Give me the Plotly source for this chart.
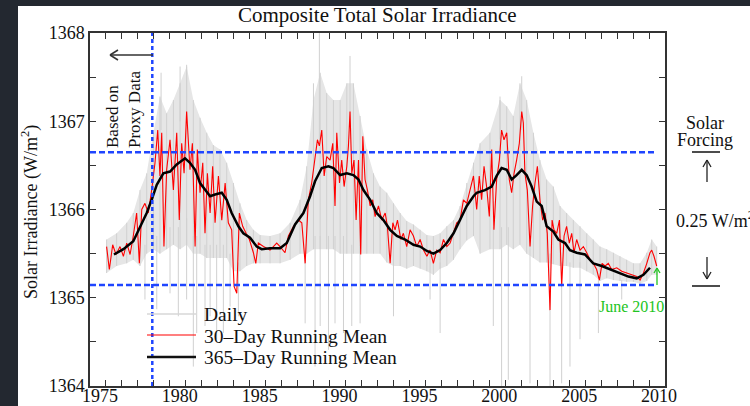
import plotly.graph_objects as go

# ---------------- data ----------------
mean365_years = [1976.50, 1977.09, 1977.71, 1978.13, 1978.55, 1978.86, 1979.18, 1979.59, 1980.01, 1980.43,
                 1980.95, 1981.26, 1981.58, 1981.89, 1982.20, 1982.52, 1982.83, 1983.25, 1983.56, 1983.87,
                 1984.29, 1984.60, 1985.02, 1985.44, 1985.75, 1986.27, 1986.90, 1987.32, 1987.84, 1988.36,
                 1988.78, 1989.09, 1989.51, 1989.93, 1990.24, 1990.66, 1991.08, 1991.49, 1991.81, 1992.12,
                 1992.54, 1992.95, 1993.37, 1993.79, 1994.21, 1994.73, 1995.25, 1995.67, 1996.09, 1996.50,
                 1996.92, 1997.34, 1997.76, 1998.17, 1998.59, 1999.01, 1999.21, 1999.73, 2000.15, 2000.46,
                 2000.77, 2001.09, 2001.40, 2001.71, 2002.03, 2002.34, 2002.65, 2002.97, 2003.28, 2003.59,
                 2004.01, 2004.32, 2004.74, 2005.05, 2005.47, 2005.99, 2006.51, 2007.04, 2007.56, 2008.18,
                 2008.71, 2009.23, 2009.65, 2010.06]
mean365_tsi = [1365.49, 1365.55, 1365.64, 1365.81, 1365.96, 1366.11, 1366.28, 1366.41, 1366.43, 1366.51,
               1366.58, 1366.53, 1366.45, 1366.30, 1366.22, 1366.15, 1366.17, 1366.19, 1366.11, 1365.96,
               1365.81, 1365.73, 1365.68, 1365.58, 1365.55, 1365.56, 1365.56, 1365.62, 1365.83, 1365.96,
               1366.15, 1366.32, 1366.47, 1366.49, 1366.47, 1366.39, 1366.41, 1366.39, 1366.34, 1366.22,
               1366.11, 1365.96, 1365.88, 1365.77, 1365.70, 1365.66, 1365.60, 1365.58, 1365.53, 1365.50,
               1365.54, 1365.62, 1365.73, 1365.88, 1366.04, 1366.15, 1366.19, 1366.22, 1366.26, 1366.38,
               1366.47, 1366.45, 1366.34, 1366.39, 1366.45, 1366.39, 1366.26, 1366.09, 1366.04, 1365.81,
               1365.75, 1365.66, 1365.62, 1365.54, 1365.51, 1365.49, 1365.39, 1365.36, 1365.32, 1365.28,
               1365.24, 1365.22, 1365.26, 1365.34]

mean30_years = [1976.04, 1976.21, 1976.42, 1976.63, 1976.88, 1977.09, 1977.30, 1977.51, 1977.71, 1977.92,
                1978.09, 1978.24, 1978.44, 1978.65, 1978.86, 1979.07, 1979.24, 1979.38, 1979.49, 1979.63, 1979.80,
                1980.01, 1980.22, 1980.43, 1980.59, 1980.74, 1980.89,
                1981.05, 1981.26, 1981.41, 1981.58, 1981.72, 1981.89,
                1982.06, 1982.20, 1982.35, 1982.52, 1982.68, 1982.83,
                1983.04, 1983.25, 1983.46, 1983.66, 1983.87,
                1984.02, 1984.19, 1984.35, 1984.56, 1984.77, 1984.98,
                1985.23, 1985.38, 1985.54, 1985.86, 1986.27, 1986.69,
                1986.90, 1987.21, 1987.42, 1987.74, 1988.05, 1988.26, 1988.47, 1988.67, 1988.88,
                1989.09, 1989.24, 1989.36, 1989.51, 1989.66, 1989.82,
                1990.03, 1990.20, 1990.34, 1990.45, 1990.62, 1990.76, 1990.91,
                1991.08, 1991.18, 1991.28, 1991.39, 1991.53, 1991.66, 1991.81, 1991.95,
                1992.08, 1992.22, 1992.37, 1992.54, 1992.70, 1992.85,
                1993.06, 1993.27, 1993.48, 1993.62, 1993.79, 1993.96,
                1994.10, 1994.25, 1994.46, 1994.62, 1994.83,
                1995.04, 1995.25, 1995.46, 1995.67, 1995.88,
                1996.09, 1996.29, 1996.50, 1996.71, 1996.92,
                1997.13, 1997.34, 1997.55, 1997.76, 1997.96,
                1998.17, 1998.38, 1998.59, 1998.80, 1999.01,
                1999.21, 1999.37, 1999.52, 1999.67, 1999.83,
                2000.00, 2000.15, 2000.29, 2000.46, 2000.63, 2000.77, 2000.92,
                2001.09, 2001.25, 2001.40, 2001.55, 2001.71, 2001.88,
                2002.03, 2002.13, 2002.23, 2002.38, 2002.55, 2002.71, 2002.86,
                2003.01, 2003.17, 2003.34, 2003.49, 2003.63, 2003.80, 2003.93,
                2004.05, 2004.22, 2004.39, 2004.53, 2004.68, 2004.84,
                2005.01, 2005.16, 2005.30, 2005.47, 2005.68, 2005.89,
                2006.10, 2006.31, 2006.51, 2006.72, 2006.89,
                2007.06, 2007.25, 2007.45, 2007.66, 2007.98,
                2008.29, 2008.60, 2008.92,
                2009.23, 2009.44, 2009.65, 2009.86,
                2010.06, 2010.17, 2010.31, 2010.48]
mean30_tsi = [1365.58, 1365.32, 1365.60, 1365.49, 1365.58, 1365.47, 1365.62, 1365.49, 1365.70, 1365.96,
              1365.39, 1366.00, 1366.07, 1365.96, 1366.22, 1366.53, 1366.90, 1366.38, 1366.87, 1365.58, 1366.45,
              1366.79, 1366.22, 1366.87, 1365.88, 1366.75, 1366.41,
              1367.11, 1366.45, 1366.75, 1365.58, 1366.68, 1366.19,
              1366.53, 1365.73, 1366.41, 1365.96, 1366.49, 1365.85,
              1366.38, 1365.88, 1366.30, 1365.85, 1365.77,
              1365.13, 1365.05, 1365.96, 1365.81, 1365.73, 1365.66,
              1365.51, 1365.39, 1365.62, 1365.58, 1365.54, 1365.62,
              1365.58, 1365.51, 1365.70, 1365.81, 1365.88, 1365.85, 1365.39, 1366.11, 1366.30,
              1366.56, 1366.79, 1366.72, 1366.90, 1366.38, 1366.60,
              1366.56, 1366.75, 1366.04, 1366.87, 1366.30, 1366.56, 1366.26,
              1366.49, 1366.72, 1367.11, 1366.41, 1366.56, 1365.88, 1366.56, 1365.49,
              1366.83, 1366.34, 1366.22, 1366.04, 1366.11, 1365.92,
              1366.04, 1365.88, 1365.96, 1365.81, 1365.39, 1365.85,
              1365.77, 1365.88, 1365.66, 1365.73, 1365.58,
              1365.77, 1365.70, 1365.58, 1365.66, 1365.54,
              1365.47, 1365.54, 1365.39, 1365.54, 1365.51,
              1365.66, 1365.58, 1365.62, 1365.73, 1365.85,
              1365.88, 1366.11, 1366.07, 1366.22, 1366.38,
              1366.00, 1366.38, 1366.11, 1366.49, 1366.26,
              1365.92, 1366.68, 1365.77, 1366.34, 1366.56, 1366.90, 1366.79,
              1366.87, 1366.34, 1366.19, 1366.41, 1366.56, 1366.75,
              1367.11, 1366.98, 1366.41, 1366.22, 1365.58, 1366.04, 1366.30,
              1366.49, 1366.11, 1365.88, 1365.96, 1365.73, 1364.86, 1365.88,
              1365.77, 1365.73, 1365.88, 1365.13, 1365.70, 1365.81,
              1365.62, 1365.73, 1365.51, 1365.66, 1365.54, 1365.58,
              1365.51, 1365.43, 1365.39, 1365.32, 1365.20,
              1365.39, 1365.36, 1365.39, 1365.32, 1365.34,
              1365.30, 1365.28, 1365.26,
              1365.24, 1365.20, 1365.28, 1365.39,
              1365.51, 1365.54, 1365.47, 1365.36]

# envelope of the daily values (upper / lower edge of the dense grey band)
daily_env_years = [1976.04, 1976.67, 1977.30, 1977.71, 1978.13, 1978.55, 1978.97, 1979.38, 1979.80, 1980.22,
                   1980.64, 1981.05, 1981.47, 1981.89, 1982.31, 1982.72, 1983.14, 1983.56, 1983.98, 1984.39,
                   1984.81, 1985.23, 1985.65, 1986.27, 1986.90,
                   1987.53, 1988.15, 1988.57, 1988.99, 1989.41, 1989.82, 1990.24, 1990.66, 1991.08, 1991.49,
                   1991.91, 1992.33, 1992.75, 1993.16, 1993.58, 1994.00, 1994.42, 1994.83, 1995.25, 1995.67,
                   1996.09, 1996.50, 1996.92, 1997.34, 1997.76, 1998.17, 1998.59, 1999.01,
                   1999.42, 2000.04, 2000.67, 2001.09, 2001.50, 2001.92, 2002.34, 2002.76, 2003.17, 2003.59,
                   2004.01, 2004.43, 2004.84, 2005.26, 2005.68, 2006.10, 2006.51, 2006.93, 2007.35, 2007.77,
                   2008.18, 2008.60, 2009.02, 2009.44, 2009.86, 2010.17, 2010.48]
daily_env_hi = [1365.66, 1365.73, 1365.85, 1365.96, 1366.22, 1366.41, 1366.87, 1367.28, 1367.09, 1367.24,
                1367.43, 1367.62, 1367.24, 1367.04, 1366.87, 1366.73, 1366.68, 1366.53, 1366.30, 1366.07,
                1365.88, 1365.77, 1365.71, 1365.70, 1365.73,
                1365.85, 1366.11, 1366.49, 1367.24, 1367.55, 1367.32, 1367.24, 1367.24, 1367.43, 1367.43,
                1367.06, 1366.68, 1366.41, 1366.26, 1366.19, 1366.07, 1365.96, 1365.87, 1365.83, 1365.77,
                1365.71, 1365.70, 1365.73, 1365.81, 1365.88, 1366.04, 1366.30, 1366.53,
                1366.75, 1366.87, 1367.24, 1367.17, 1367.06, 1367.43, 1367.24, 1366.87, 1366.56, 1366.34,
                1366.26, 1366.04, 1365.96, 1365.88, 1365.81, 1365.73, 1365.66, 1365.58, 1365.55, 1365.51,
                1365.47, 1365.43, 1365.39, 1365.39, 1365.51, 1365.66, 1365.58]
daily_env_lo = [1365.28, 1365.36, 1365.39, 1365.43, 1365.36, 1365.50, 1365.55, 1365.50, 1365.55, 1365.60,
                1365.55, 1365.60, 1365.50, 1365.50, 1365.45, 1365.45, 1365.45, 1365.45, 1365.30, 1365.30,
                1365.36, 1365.39, 1365.39, 1365.39, 1365.39,
                1365.43, 1365.50, 1365.50, 1365.55, 1365.55, 1365.55, 1365.55, 1365.50, 1365.50, 1365.50,
                1365.50, 1365.50, 1365.50, 1365.50, 1365.40, 1365.36, 1365.36, 1365.33, 1365.36, 1365.33,
                1365.30, 1365.26, 1365.33, 1365.36, 1365.43, 1365.55, 1365.65, 1365.70,
                1365.50, 1365.55, 1365.55, 1365.60, 1365.55, 1365.60, 1365.50, 1365.45, 1365.40, 1365.40,
                1365.38, 1365.36, 1365.36, 1365.34, 1365.34, 1365.30, 1365.26, 1365.19, 1365.22, 1365.20,
                1365.19, 1365.18, 1365.18, 1365.16, 1365.19, 1365.26, 1365.26]

# individual daily excursions (sunspot dips and faculae peaks): year, low end, high end
spike_years = [1978.44, 1979.18, 1980.01, 1980.53, 1981.05, 1981.47, 1981.68, 1982.20, 1982.52, 1982.93,
               1983.35, 1983.77, 1984.29, 1988.47, 1989.09, 1989.41, 1989.93, 1990.34, 1990.87, 1991.39,
               1991.91, 1994.00, 1996.29, 1996.92, 2000.25, 2000.77, 2001.19, 2002.55, 2003.80, 2004.53,
               2005.05, 2005.68, 2006.83, 2008.29,
               1979.45, 1980.64, 1981.05, 1988.99, 1989.36, 1991.28, 2000.67, 2002.03]
spike_lo = [1364.98, 1364.87, 1365.05, 1364.79, 1364.98, 1364.22, 1364.60, 1364.68, 1364.79, 1364.53,
            1364.60, 1364.90, 1364.79, 1364.71, 1364.22, 1364.68, 1364.41, 1364.71, 1364.60, 1364.68,
            1364.71, 1364.79, 1364.98, 1364.60, 1364.68, 1364.00, 1364.07, 1364.03, 1364.00, 1364.03,
            1364.22, 1364.53, 1364.60, 1364.98,
            1366.90, 1367.00, 1367.00, 1366.60, 1366.80, 1366.80, 1366.80, 1366.90]
spike_hi = [1365.60, 1365.70, 1365.80, 1365.80, 1365.90, 1365.70, 1365.70, 1365.60, 1365.60, 1365.60,
            1365.60, 1365.50, 1365.40, 1365.50, 1365.70, 1365.70, 1365.70, 1365.70, 1365.70, 1365.60,
            1365.60, 1365.40, 1365.50, 1365.40, 1365.80, 1365.80, 1365.80, 1365.70, 1365.50, 1365.40,
            1365.40, 1365.40, 1365.20, 1365.20,
            1367.55, 1367.62, 1367.64, 1367.43, 1368.00, 1367.74, 1367.28, 1367.51]

forcing_levels = [1366.65, 1365.145]      # dashed blue reference levels
proxy_start_year = 1978.9                 # start of satellite record
june_2010 = 2010.45

x_range = [1975, 2011]
y_range = [1364, 1368]
x_tick_years = list(range(1975, 2012))
x_tick_text = [str(y) if y % 5 == 0 and y <= 2010 else "" for y in x_tick_years]
y_tick_vals = [1364, 1364.5, 1365, 1365.5, 1366, 1366.5, 1367, 1367.5, 1368]
y_tick_text = ["1364", "", "1365", "", "1366", "", "1367", "", "1368"]
legend_names = ["Daily", "30\u2013Day Running Mean", "365\u2013Day Running Mean"]

# ---------------- layout geometry (pixels) ----------------
W, H = 750, 406
L, R, T, B = 90, 85, 33, 20
PW, PH = W - L - R, H - T - B


def px(x):
    return (x - L) / PW


def py(y):
    return (H - B - y) / PH


SERIF = "Liberation Serif, Times New Roman, serif"
BLUE = "#1f45ff"
GREEN = "#22c422"
DAILY_C = "rgb(208,208,208)"

fig = go.Figure()

# daily: light band, vertical day-to-day spread and isolated excursions
fig.add_trace(go.Scatter(x=daily_env_years, y=daily_env_hi, mode="lines",
                         line=dict(width=0, color="rgb(228,228,228)"), showlegend=False,
                         hoverinfo="skip"))
fig.add_trace(go.Scatter(x=daily_env_years, y=daily_env_lo, mode="lines",
                         line=dict(width=0, color="rgb(228,228,228)"), fill="tonexty",
                         fillcolor="rgb(230,230,230)", showlegend=False, hoverinfo="skip"))
sx, sy = [], []
for yr, lo, hi in zip(daily_env_years, daily_env_lo, daily_env_hi):
    sx += [yr, yr, None]
    sy += [lo, hi, None]
for yr, lo, hi in zip(spike_years, spike_lo, spike_hi):
    sx += [yr, yr, None]
    sy += [lo, hi, None]
fig.add_trace(go.Scatter(x=sx, y=sy, mode="lines", name=legend_names[0], showlegend=False,
                         line=dict(width=1, color=DAILY_C), hoverinfo="skip"))
fig.add_trace(go.Scatter(x=mean30_years, y=mean30_tsi, mode="lines", name=legend_names[1],
                         showlegend=False, line=dict(width=1.1, color="#ff0000")))
fig.add_trace(go.Scatter(x=mean365_years, y=mean365_tsi, mode="lines", name=legend_names[2],
                         showlegend=False, line=dict(width=2.5, color="#000000")))

# blue reference lines
for lvl in forcing_levels:
    fig.add_trace(go.Scatter(x=[x_range[0], june_2010], y=[lvl, lvl], mode="lines", showlegend=False,
                             line=dict(width=2.5, color=BLUE, dash="6px,3px"), hoverinfo="skip"))
fig.add_trace(go.Scatter(x=[proxy_start_year, proxy_start_year], y=y_range, mode="lines", showlegend=False,
                         line=dict(width=2.5, color=BLUE, dash="4px,3px"), hoverinfo="skip"))


def seg(x0, y0, x1, y1, color="#222", width=1.5):
    return dict(type="line", xref="paper", yref="paper", x0=px(x0), x1=px(x1), y0=py(y0), y1=py(y1),
                line=dict(color=color, width=width), layer="above")


shapes = [
    # dark frame around the picture
    dict(type="rect", xref="paper", yref="paper", x0=px(0), x1=px(18), y0=py(H), y1=py(0),
         fillcolor="#232830", line=dict(width=0), layer="above"),
    dict(type="rect", xref="paper", yref="paper", x0=px(0), x1=px(W), y0=py(6), y1=py(0),
         fillcolor="#232830", line=dict(width=0), layer="above"),
    # "based on proxy data" arrow
    seg(110, 55, 153, 55, "#333"), seg(110, 55, 118, 50, "#333"), seg(110, 55, 118, 60, "#333"),
    # forcing bars and arrows on the right
    seg(692, 152, 720, 152, "#111"), seg(692, 286, 720, 286, "#111"),
    seg(707, 182, 707, 160, "#222", 1.3), seg(707, 160, 703, 167, "#222", 1.3), seg(707, 160, 711, 167, "#222", 1.3),
    seg(707, 257, 707, 279, "#222", 1.3), seg(707, 279, 703, 272, "#222", 1.3), seg(707, 279, 711, 272, "#222", 1.3),
    # green June 2010 arrow
    seg(657, 285, 657, 268, GREEN, 1.3), seg(657, 268, 654, 273, GREEN, 1.3), seg(657, 268, 660, 273, GREEN, 1.3),
    # legend samples
    seg(147, 314, 196, 314, "rgb(215,215,215)", 1.5),
    seg(147, 335, 196, 335, "#ff0000", 1.2),
    seg(147, 357, 196, 357, "#111", 2.5),
]


def ann(text, x, y, size=18, color="#111", xanchor="center", yanchor="middle", angle=0, align="center"):
    return dict(text=text, x=px(x), y=py(y), xref="paper", yref="paper", showarrow=False,
                xanchor=xanchor, yanchor=yanchor, textangle=angle, align=align,
                font=dict(family=SERIF, size=size, color=color))


annotations = [
    ann("Composite Total Solar Irradiance", 377, 15, size=21),
    ann("Solar Irradiance (W/m<sup>2</sup>)", 30, 212, size=18, angle=-90),
    ann("Based on<br>Proxy Data", 124, 110, size=17, angle=-90, align="left"),
    ann("Solar", 705, 123, size=18),
    ann("Forcing", 705, 140, size=18),
    ann("0.25 W/m<sup>2</sup>", 674, 219, size=18, xanchor="left"),
    ann("June 2010", 631, 306, size=16, color=GREEN),
    ann(legend_names[0], 202, 314, size=19.5, xanchor="left"),
    ann(legend_names[1], 202, 336, size=19.5, xanchor="left"),
    ann(legend_names[2], 202, 357, size=19.5, xanchor="left"),
]

fig.update_layout(
    width=W, height=H, margin=dict(l=L, r=R, t=T, b=B, autoexpand=False),
    paper_bgcolor="white", plot_bgcolor="white",
    font=dict(family=SERIF, size=18, color="#111"),
    shapes=shapes, annotations=annotations,
    showlegend=False,
)
fig.update_xaxes(range=x_range, tickmode="array", tickvals=x_tick_years, ticktext=x_tick_text,
                 ticks="inside", ticklen=6, tickwidth=1.2, tickcolor="#333", showline=True,
                 linecolor="#333", linewidth=1.5, mirror="ticks", showgrid=False, zeroline=False,
                 automargin=False, ticklabelshift=10, ticklabelstandoff=-7,
                 tickfont=dict(family=SERIF, size=18, color="#111"))
fig.update_yaxes(range=y_range, tickmode="array", tickvals=y_tick_vals, ticktext=y_tick_text,
                 ticks="inside", ticklen=6, tickwidth=1.2, tickcolor="#333", showline=True,
                 linecolor="#333", linewidth=1.5, mirror="ticks", showgrid=False, zeroline=False,
                 automargin=False, tickfont=dict(family=SERIF, size=18, color="#111"))

fig.write_html("out.html")
